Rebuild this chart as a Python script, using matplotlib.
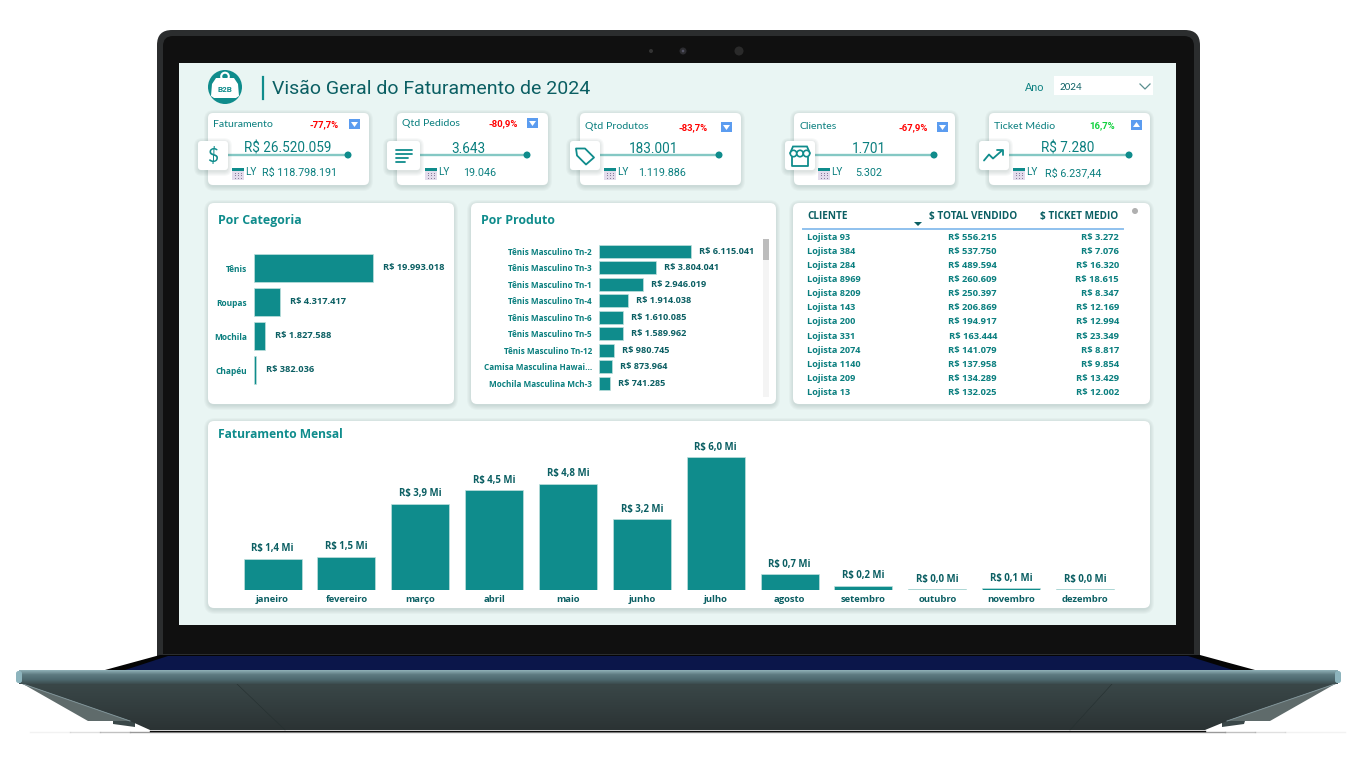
import numpy as np
import matplotlib
matplotlib.use("Agg")
import matplotlib.pyplot as plt
from matplotlib.patches import FancyBboxPatch, Polygon, Circle, Rectangle

W, H = 1351, 784
TEAL = "#0f8c8c"
TEXT = "#0a7f7f"
DARK = "#0b5f63"
BG = "#e9f5f3"

# dados
kpi_titles = ["Faturamento", "Qtd Pedidos", "Qtd Produtos", "Clientes", "Ticket Médio"]
kpi_values = ["R$ 26.520.059", "3.643", "183.001", "1.701", "R$ 7.280"]
kpi_ly = ["R$ 118.798.191", "19.046", "1.119.886", "5.302", "R$ 6.237,44"]
kpi_delta = [-77.7, -80.9, -83.7, -67.9, 16.7]

categories = ["Tênis", "Roupas", "Mochila", "Chapéu"]
category_sales = [19993018, 4317417, 1827588, 382036]

products = ["Tênis Masculino Tn-2", "Tênis Masculino Tn-3", "Tênis Masculino Tn-1",
            "Tênis Masculino Tn-4", "Tênis Masculino Tn-6", "Tênis Masculino Tn-5",
            "Tênis Masculino Tn-12", "Camisa Masculina Hawai...", "Mochila Masculina Mch-3"]
product_sales = [6115041, 3804041, 2946019, 1914038, 1610085, 1589962, 980745, 873964, 741285]

clients = ["Lojista 93", "Lojista 384", "Lojista 284", "Lojista 8969", "Lojista 8209", "Lojista 143",
           "Lojista 200", "Lojista 331", "Lojista 2074", "Lojista 1140", "Lojista 209", "Lojista 13"]
client_total = [556215, 537750, 489594, 260609, 250397, 206869,
                194917, 163444, 141079, 137958, 134289, 132025]
client_ticket = [3272, 7076, 16320, 18615, 8347, 12169, 12994, 23349, 8817, 9854, 13429, 12002]

months = ["janeiro", "fevereiro", "março", "abril", "maio", "junho", "julho",
          "agosto", "setembro", "outubro", "novembro", "dezembro"]
month_sales = [1.4, 1.5, 3.9, 4.5, 4.8, 3.2, 6.0, 0.7, 0.2, 0.04, 0.08, 0.03]


def brl(v):
    return "R$ " + f"{v:,}".replace(",", ".")


def px(size):
    return size * 0.72


def pixel_axes(x0, y0, x1, y1):
    ax = fig.add_axes([x0 / W, 1 - y1 / H, (x1 - x0) / W, (y1 - y0) / H])
    ax.patch.set_alpha(0)
    for s in ax.spines.values():
        s.set_visible(False)
    return ax


def rrect(x0, y0, x1, y1, r=4, color="white", z=2, **kw):
    p = FancyBboxPatch((x0 + r, y0 + r), x1 - x0 - 2 * r, y1 - y0 - 2 * r,
                       boxstyle=f"round,pad={r},rounding_size={r}",
                       fc=color, ec="none", zorder=z, **kw)
    bg.add_patch(p)
    return p


def card(x0, y0, x1, y1, r=6, z=2):
    for i in range(5, 0, -1):
        rrect(x0 - i + 1, y0 - i + 2, x1 + i - 1, y1 + i + 1, r + i, color="#40605c", z=z, alpha=0.035)
    rrect(x0, y0, x1, y1, r, z=z + 0.1)


def gradient(poly, colors, z):
    rgb = np.array([matplotlib.colors.to_rgb(c) for c in colors])
    ys = np.array(poly)[:, 1]
    xs = np.array(poly)[:, 0]
    steps = np.linspace(0, 1, 64)
    stops = np.linspace(0, 1, len(colors))
    img = np.stack([np.interp(steps, stops, rgb[:, i]) for i in range(3)], axis=1)[:, None, :]
    im = bg.imshow(img, extent=(xs.min(), xs.max(), ys.max(), ys.min()), aspect="auto", zorder=z)
    clip = Polygon(poly, closed=True, fc="none", ec="none", transform=bg.transData)
    bg.add_patch(clip)
    im.set_clip_path(clip)


fig = plt.figure(figsize=(W / 100, H / 100), dpi=100, facecolor="white")
bg = fig.add_axes([0, 0, 1, 1])
bg.axis("off")

# notebook
rrect(157, 30, 1200, 680, 15, color="#2b2d2e", z=1)
rrect(163, 36, 1194, 680, 10, color="#101010", z=1.1)
bg.add_patch(Rectangle((179, 63), 997, 562, fc=BG, ec="none", zorder=1.5))
bg.add_patch(Rectangle((157, 654), 1043, 2, fc="#2b2d2e", ec="none", zorder=1.6))
bg.add_patch(Polygon([(160, 655), (1200, 655), (1255, 670), (105, 670)], fc="#050505", ec="none", zorder=1.7))
bg.add_patch(Polygon([(168, 656), (1188, 656), (1233, 670), (125, 670)], fc="#0b164a", ec="none", zorder=1.8))
for cx, rad, col in [(651, 2, "#333333"), (683, 3.5, "#2c2c30"), (739, 4.5, "#2a2a2a")]:
    bg.add_patch(Circle((cx, 51), rad, fc=col, ec="none", zorder=1.9))
bg.add_patch(Circle((683, 51), 1.3, fc="#555566", ec="none", zorder=1.95))

# base
bg.add_patch(Polygon([(23, 684), (88, 721), (130, 721)], fc="#5f6b6b", ec="none", zorder=1.2))
bg.add_patch(Polygon([(1335, 684), (1270, 721), (1227, 721)], fc="#5f6b6b", ec="none", zorder=1.2))
bg.add_patch(Polygon([(113, 721), (113, 724), (135, 727), (135, 721)], fc="#3a4748", ec="none", zorder=1.2))
bg.add_patch(Polygon([(1245, 721), (1244, 724), (1222, 727), (1222, 721)], fc="#3a4748", ec="none", zorder=1.2))
gradient([(23, 684), (1335, 684), (1227, 721), (1205, 730), (150, 730), (130, 721)],
         ["#3a4748", "#2b3334"], 1.3)
bg.plot([23, 130], [684, 721], color="#7d9196", lw=0.7, zorder=1.35)
bg.plot([1335, 1227], [684, 721], color="#7d9196", lw=0.7, zorder=1.35)
bg.plot([237, 285], [684, 730], color="#253030", lw=0.4, zorder=1.4)
bg.plot([1112, 1070], [684, 730], color="#253030", lw=0.4, zorder=1.4)
gradient([(19, 670), (1338, 670), (1338, 684), (19, 684)],
         ["#90b2b8", "#5d7a80", "#4e6a70", "#3c4c4e"], 1.5)
rrect(16, 671, 22, 683, 2.5, color="#8db4bd", z=1.6)
rrect(1335, 671, 1341, 683, 2.5, color="#8db4bd", z=1.6)
bg.plot([150, 1205], [730.5, 730.5], color="#0c0c0c", lw=1, zorder=1.6)
bg.plot([130, 1225], [731.5, 731.5], color="#999999", lw=1, zorder=1.5)
for seg, a in zip([((30, 70), (1285, 1345)), ((70, 100), (1255, 1285)), ((100, 130), (1225, 1255))],
                  [0.12, 0.3, 0.6]):
    for xs in seg:
        bg.plot(xs, [731.5, 731.5], color="#999999", lw=1, alpha=a, zorder=1.5)

# cabecalho
bg.add_patch(Circle((225, 87), 17, fc=TEAL, ec="none", zorder=3))
bg.add_patch(Circle((225, 76.5), 3.8, fc="none", ec="white", lw=1.5, zorder=3.1))
bg.add_patch(Polygon([(216, 78), (234, 78), (238, 84), (239, 96), (236, 98), (214, 98), (211, 96), (212, 84)],
                     fc="white", ec="none", zorder=3.1))
bg.text(225, 89, "B2B", fontsize=px(8), color=TEAL, ha="center", va="center", fontweight="bold",
        family="Roboto", zorder=3.2)
bg.plot([263, 263], [77, 99], color=TEAL, lw=1.6, zorder=3)
bg.text(272, 88.5, "Visão Geral do Faturamento de 2024", fontsize=px(19.5), color=DARK,
        family="Roboto", ha="left", va="center", zorder=3)
bg.text(1025, 87, "Ano", fontsize=px(10.8), color=TEXT, family="Lato", va="center", zorder=3)
bg.add_patch(Rectangle((1054, 76), 99, 19, fc="white", ec="none", zorder=3))
bg.text(1060, 87, "2024", fontsize=px(9.8), color=DARK, family="Lato", va="center", zorder=3.1)
bg.plot([1140, 1145, 1150], [84, 89, 84], color="#5a8f8f", lw=0.9, zorder=3.1)

# cartoes kpi
kpi_cards = [(208, 369), (397, 548), (580, 741), (794, 955), (989, 1150)]
kpi_icon = [198, 387, 570, 785, 979]
kpi_line_end = [348, 527, 719, 934, 1129]
kpi_title_y = [124, 123, 126, 126, 126]
kpi_delta_right = [339, 518, 708, 928, 1115]
kpi_delta_y = [125, 124, 128, 128, 126]
kpi_tri_x = [349, 527, 721, 937, 1131]
kpi_tri_y = [119, 118, 122, 122, 120]
kpi_value_x = [288, 468, 653, 869, 1068]
kpi_cal_x = [232, 425, 604, 818, 1013]
kpi_ly_x = [300, 480, 662, 869, 1073]


def kpi_icon_glyph(i, x, y):
    # x, y = centro do icone
    kw = dict(color=TEAL, lw=1.3, zorder=6, solid_capstyle="round")
    if i == 0:
        bg.text(x, y, "$", fontsize=px(19), color=TEAL, family="Lato", ha="center", va="center", zorder=6)
    elif i == 1:
        for dy, w in zip([-6, -2, 2, 6], [16, 16, 12, 9]):
            bg.plot([x - 8, x - 8 + w], [y + dy, y + dy], **kw)
    elif i == 2:
        bg.add_patch(Polygon([(x - 9, y - 7), (x + 0, y - 7), (x + 9, y + 2), (x + 1, y + 9), (x - 8, y)],
                             fc="none", ec=TEAL, lw=1.3, joinstyle="round", zorder=6))
    elif i == 3:
        bg.add_patch(Polygon([(x - 7, y - 9), (x + 7, y - 9), (x + 10, y - 2), (x - 10, y - 2)],
                             fc="none", ec=TEAL, lw=1.3, zorder=6))
        for sx in (-6.5, 0, 6.5):
            bg.add_patch(Circle((x + sx, y - 2), 3.2, fc="white", ec=TEAL, lw=1.2, zorder=6.1))
        bg.plot([x - 8, x - 8, x + 8, x + 8], [y + 1, y + 10, y + 10, y + 1], **kw)
    else:
        bg.plot([x - 10, x - 5, x - 1, x + 8], [y + 5, y - 1, y + 3, y - 5], **kw)
        bg.plot([x + 3, x + 9, x + 9], [y - 6, y - 6, y - 1], **kw)


for i, title in enumerate(kpi_titles):
    x0, x1 = kpi_cards[i]
    card(x0, 113, x1, 185, r=5)
    bg.text(x0 + 5, kpi_title_y[i], title, fontsize=px(10.5), color=TEXT, family="Lato", va="center", zorder=4)
    d = kpi_delta[i]
    bg.text(kpi_delta_right[i], kpi_delta_y[i], f"{d:.1f}%".replace(".", ","), fontsize=px(9.5),
            color="#ff0000" if d < 0 else "#0fd13c", fontweight="bold", family="Roboto",
            ha="right", va="center", zorder=4)
    tx, ty = kpi_tri_x[i], kpi_tri_y[i]
    bg.add_patch(Rectangle((tx, ty), 11, 10, fc="#5b9cf0", ec="none", zorder=4))
    if d < 0:
        bg.add_patch(Polygon([(tx + 2, ty + 3), (tx + 9, ty + 3), (tx + 5.5, ty + 8)], fc="white", ec="none", zorder=4.1))
    else:
        bg.add_patch(Polygon([(tx + 2, ty + 7), (tx + 9, ty + 7), (tx + 5.5, ty + 2)], fc="white", ec="none", zorder=4.1))
    ix = kpi_icon[i]
    bg.plot([ix + 25, kpi_line_end[i]], [155, 155], color="#84c8c4", lw=1.7, zorder=4)
    bg.add_patch(Circle((kpi_line_end[i], 155), 3.5, fc=TEAL, ec="none", zorder=4.1))
    bg.text(kpi_value_x[i], 148.5, kpi_values[i], fontsize=px(13.5), color=TEXT, family="Roboto",
            ha="center", va="center", zorder=4.2)
    iw = 33 if i == 1 else 30
    card(ix, 141, ix + iw, 170, r=3, z=5)
    kpi_icon_glyph(i, ix + iw / 2, 155.5)
    cx = kpi_cal_x[i]
    bg.add_patch(Rectangle((cx, 169), 12, 11, fc="#e3dcec", ec="none", zorder=4))
    bg.add_patch(Rectangle((cx, 168), 12, 3, fc=TEAL, ec="none", zorder=4.1))
    for gx in (3, 6, 9):
        for gy in (173, 175.5, 178):
            bg.add_patch(Rectangle((cx + gx - 0.5, gy - 0.5), 1.2, 1.2, fc="#8a7d9c", ec="none", zorder=4.1))
    bg.text(cx + 13, 172, "LY", fontsize=px(10), color=TEXT, family="Roboto", va="center", zorder=4)
    bg.text(kpi_ly_x[i], 173, kpi_ly[i], fontsize=px(10.8), color=TEXT, family="Roboto",
            ha="center", va="center", zorder=4)

# paineis
card(208, 203, 454, 404)
card(471, 203, 776, 404)
card(793, 203, 1150, 404)
card(208, 421, 1150, 608)
bg.text(218, 220, "Por Categoria", fontsize=px(12.4), color=TEAL, family="Open Sans", fontweight="bold", va="center", zorder=4)
bg.text(481, 220, "Por Produto", fontsize=px(12.4), color=TEAL, family="Open Sans", fontweight="bold", va="center", zorder=4)
bg.text(218, 434, "Faturamento Mensal", fontsize=px(12), color=TEAL, family="Open Sans", fontweight="bold", va="center", zorder=4)

# tabela
bg.text(807, 216, "CLIENTE", fontsize=px(10), color=DARK, family="Open Sans", fontweight="bold", va="center", zorder=4)
bg.text(1017, 216, "$ TOTAL VENDIDO", fontsize=px(10), color=DARK, family="Open Sans", fontweight="bold", ha="right", va="center", zorder=4)
bg.text(1118, 216, "$ TICKET MEDIO", fontsize=px(10), color=DARK, family="Open Sans", fontweight="bold", ha="right", va="center", zorder=4)
bg.plot([803, 1123], [229, 229], color="#8fc1ee", lw=1.4, zorder=4)
bg.add_patch(Polygon([(914, 222), (922, 222), (918, 226)], fc=DARK, ec="none", zorder=4))
bg.add_patch(Circle((1135, 211), 3, fc="#b0b0b0", ec="none", zorder=4))
row_y = [237, 251, 265.5, 279.5, 293.5, 307.5, 321.5, 336, 350, 364, 378, 392]
for y, name, total, ticket in zip(row_y, clients, client_total, client_ticket):
    bg.text(807, y, name, fontsize=px(9.2), color=TEXT, family="Open Sans", fontweight="bold", va="center", zorder=4)
    bg.text(997, y, brl(total), fontsize=px(9.4), color=TEXT, family="Open Sans", fontweight="bold", ha="right", va="center", zorder=4)
    bg.text(1119, y, brl(ticket), fontsize=px(9.4), color=TEXT, family="Open Sans", fontweight="bold", ha="right", va="center", zorder=4)

# barra de rolagem
bg.add_patch(Rectangle((763, 239), 6, 158, fc="#f4f4f4", ec="none", zorder=4))
bg.add_patch(Rectangle((763, 239), 6, 21, fc="#bdbdbd", ec="none", zorder=4.1))

bg.set_xlim(0, W)
bg.set_ylim(H, 0)


def hbars(ax, labels, values, height, tick_size, label_size, gap):
    pos = np.arange(len(labels))
    ax.barh(pos, values, height=height, color=TEAL, edgecolor="#bfe0dd", linewidth=0.5)
    ax.set_yticks(pos, labels, fontsize=px(tick_size), color=TEXT, fontweight="bold", family="Open Sans")
    ax.set_xticks([])
    ax.tick_params(axis="y", length=0, pad=px(7))
    ax.set_ylim(len(labels) - 0.5, -0.5)
    for p, v in zip(pos, values):
        ax.annotate(brl(v), (v, p), xytext=(gap, 0), textcoords="offset points", va="center",
                    fontsize=px(label_size), color=DARK, fontweight="bold", family="Open Sans")


ax_cat = pixel_axes(254, 251, 440, 387)
hbars(ax_cat, categories, category_sales, 0.8, 8.4, 9.3, px(10))
ax_cat.set_xlim(0, 31250000)

ax_prod = pixel_axes(599, 243, 755, 391.5)
hbars(ax_prod, products, product_sales, 0.76, 8.1, 9.2, px(8))
ax_prod.set_xlim(0, 10370000)

ax_month = pixel_axes(235.6, 440, 1122, 590)
x = np.arange(len(months))
bars = ax_month.bar(x, month_sales, width=0.785, color=TEAL, edgecolor="#bfe0dd", linewidth=0.5)
ax_month.set_xlim(-0.5, len(months) - 0.5)
ax_month.set_ylim(0, 6.77)
ax_month.set_yticks([])
ax_month.set_xticks(x, months, fontsize=px(9.5), color=DARK, fontweight="bold", family="Open Sans")
ax_month.tick_params(axis="x", length=0, pad=px(5.5))
for b, v in zip(bars, month_sales):
    ax_month.annotate(f"R$ {v:.1f} Mi".replace(".", ","), (b.get_x() + b.get_width() / 2, v),
                      xytext=(0, px(4.5)), textcoords="offset points", ha="center", va="bottom",
                      fontsize=px(9.6), color=DARK, fontweight="bold", family="Open Sans")

fig.savefig("out.png", dpi=100)
